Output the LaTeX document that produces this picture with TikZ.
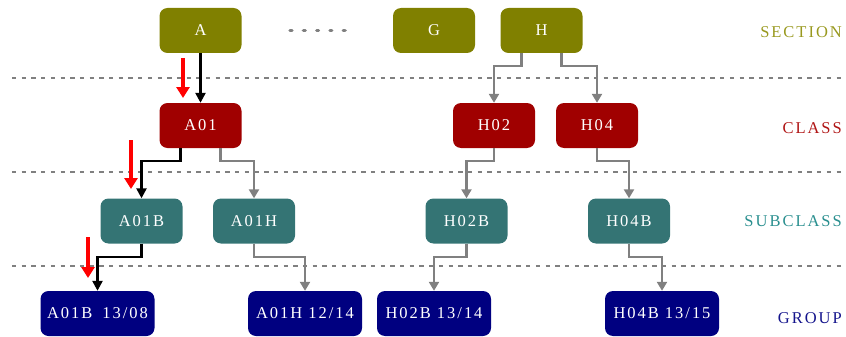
\documentclass[tikz,border=0pt]{standalone}
\usepackage{fontspec}
\setmainfont{Liberation Serif}[LetterSpace=12]
\usetikzlibrary{arrows.meta}
\definecolor{secfill}{HTML}{808000}
\definecolor{clsfill}{HTML}{A00000}
\definecolor{subfill}{HTML}{347474}
\definecolor{grpfill}{HTML}{000080}
\definecolor{seclbl}{HTML}{99991F}
\definecolor{clslbl}{HTML}{B01515}
\definecolor{sublbl}{HTML}{2A8F8F}
\definecolor{grplbl}{HTML}{14148C}
\definecolor{conngray}{HTML}{808080}
\tikzset{
  box/.style={rounded corners=8pt, inner sep=0pt, minimum width=82pt, minimum height=45pt,
    text=white, font=\fontsize{16.5}{19}\selectfont},
  secbox/.style={box, fill=secfill},
  clsbox/.style={box, fill=clsfill},
  subbox/.style={box, fill=subfill},
  grpbox/.style={box, fill=grpfill, minimum width=114pt},
  lvl/.style={anchor=east, inner sep=0pt, font=\fontsize{16.5}{19}\selectfont},
  conn/.style={draw=conngray, line width=2.4pt, -{Triangle[width=10pt,length=9pt]}},
  pathconn/.style={draw=black, line width=2.4pt, -{Triangle[width=10pt,length=10pt]}},
  redarrow/.style={draw=red, line width=3.5pt, -{Triangle[width=13pt,length=11pt]}},
  sep/.style={draw=conngray, line width=2pt, dash pattern=on 4.3pt off 5.4pt},
  gapdots/.style={draw=conngray, line width=3.2pt, line cap=round, dash pattern=on 2pt off 11.3pt}
}
\begin{document}
\begin{tikzpicture}[x=1pt,y=-1pt]
\useasboundingbox (0,0) rectangle (846,337);
% separators
\coordinate (s1a) at (12,78); \coordinate (s1b) at (842,78);
\coordinate (s2a) at (12,172); \coordinate (s2b) at (842,172);
\coordinate (s3a) at (12,266); \coordinate (s3b) at (842,266);
\draw[sep] (s1a) -- (s1b);
\draw[sep] (s2a) -- (s2b);
\draw[sep] (s3a) -- (s3b);
% section level
\node[secbox] (A) at (200.5,30.5) {A};
\node[secbox] (G) at (434,30.5) {G};
\node[secbox] (H) at (541.5,30.5) {H};
\coordinate (d1) at (290,30.5); \coordinate (d2) at (346,30.5);
\draw[gapdots] (d1) -- (d2);
% class level
\node[clsbox] (A01) at (200.5,125.5) {A01};
\node[clsbox] (H02) at (494,125.5) {H02};
\node[clsbox] (H04) at (597,125.5) {H04};
% subclass level
\node[subbox] (A01B) at (141.5,221) {A01B};
\node[subbox] (A01H) at (254,221) {A01H};
\node[subbox] (H02B) at (466.5,221) {H02B};
\node[subbox] (H04B) at (629,221) {H04B};
% group level
\node[grpbox] (gA01B) at (97.5,313.5) {A01B\hspace{0.6em}13/08};
\node[grpbox] (gA01H) at (305,313.5) {A01H 12/14};
\node[grpbox] (gH02B) at (434,313.5) {H02B 13/14};
\node[grpbox] (gH04B) at (662,313.5) {H04B 13/15};
% level labels
\node[lvl, text=seclbl] (lsec) at (842,32) {SECTION};
\node[lvl, text=clslbl] (lcls) at (842,128) {CLASS};
\node[lvl, text=sublbl] (lsub) at (842,221) {SUBCLASS};
\node[lvl, text=grplbl] (lgrp) at (842,318) {GROUP};
% connectors
\draw[pathconn] (A.south) -- (A01.north);
\draw[pathconn] ([xshift=-20pt]A01.south) -- ++(0,13) -| (A01B.north);
\draw[conn] ([xshift=20pt]A01.south) -- ++(0,13) -| (A01H.north);
\draw[pathconn] (A01B.south) -- ++(0,13) -| (gA01B.north);
\draw[conn] (A01H.south) -- ++(0,13) -| (gA01H.north);
\draw[conn] ([xshift=-20pt]H.south) -- ++(0,13) -| (H02.north);
\draw[conn] ([xshift=20pt]H.south) -- ++(0,13) -| (H04.north);
\draw[conn] (H02.south) -- ++(0,13) -| (H02B.north);
\draw[conn] (H04.south) -- ++(0,13) -| (H04B.north);
\draw[conn] (H02B.south) -- ++(0,13) -| (gH02B.north);
\draw[conn] (H04B.south) -- ++(0,13) -| (gH04B.north);
% red path markers
\coordinate (r1a) at (183,58); \coordinate (r1b) at (183,98);
\coordinate (r2a) at (131,140); \coordinate (r2b) at (131,189);
\coordinate (r3a) at (88,237); \coordinate (r3b) at (88,278);
\draw[redarrow] (r1a) -- (r1b);
\draw[redarrow] (r2a) -- (r2b);
\draw[redarrow] (r3a) -- (r3b);
\end{tikzpicture}
\end{document}
